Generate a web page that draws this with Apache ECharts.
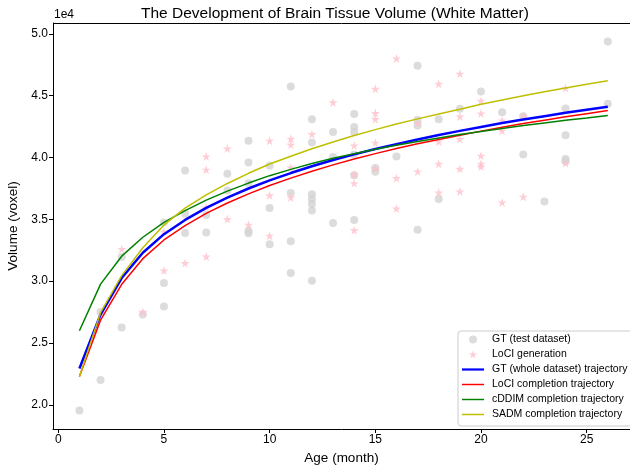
<!DOCTYPE html>
<html><head><meta charset="utf-8">
<script src="https://cdn.jsdelivr.net/npm/echarts@6/dist/echarts.min.js"></script>
<style>html,body{margin:0;padding:0;background:#fff}#c{width:630px;height:465px}</style>
</head><body><div id="c"></div>
<script>
// ---- data ----
const ages = [1,2,3,4,5,6,7,8,9,10,11,12,13,14,15,16,17,18,19,20,21,22,23,24,25,26];
const gtAge = [1,2,2,3,3,4,5,5,5,6,6,6,7,7,8,8,9,9,9,9,9,10,10,10,11,11,11,11,12,12,12,12,12,12,12,13,13,13,14,14,14,14,14,14,15,15,16,17,17,17,17,18,18,19,20,21,22,22,23,24,24,24,24,26,26];
const gtVol = [19540,27500,22000,31950,26250,27300,34740,29850,27950,38940,35450,33900,35350,33930,38680,37330,41350,39590,37920,34070,33880,39330,35910,32980,45740,37120,33220,30660,43100,41210,37020,36650,36240,35710,30040,42050,40040,34700,43510,42460,42050,40240,38560,34950,39150,38840,40080,47410,43050,42590,34150,43100,36650,43930,45340,43650,43340,40240,36450,43960,41800,39870,39700,49380,44340];
const lociAge = [3,4,5,5,6,7,7,7,7,8,8,9,10,10,10,11,11,11,11,12,13,14,14,14,14,15,15,15,15,15,16,16,16,17,17,18,18,18,18,19,19,19,19,19,20,20,20,20,20,21,21,21,22,22,24,24];
const lociVol = [32600,27520,34010,30860,31460,40080,39010,35960,31990,40720,35020,34560,41350,36940,33670,41510,41030,39190,36760,41890,44450,40970,38640,37920,34130,45550,43590,43100,41190,39100,48000,38330,35870,42780,38870,45960,41290,39490,37170,46770,43310,41480,39080,37250,44580,43560,40140,39490,39270,42990,42160,36360,43370,36820,45610,39550];
const gtTraj = [22940,27300,30250,32300,33800,34950,35930,36760,37490,38150,38740,39290,39790,40250,40680,41080,41460,41810,42150,42470,42780,43070,43340,43610,43860,44110];
const lociTraj = [22290,26850,29750,31820,33330,34490,35480,36320,37060,37730,38330,38890,39400,39870,40310,40720,41105,41460,41805,42130,42445,42740,43015,43290,43540,43790];
const cddimTraj = [25990,29760,32020,33550,34750,35700,36550,37280,37930,38530,39040,39510,39930,40310,40660,40990,41300,41580,41850,42100,42350,42580,42790,43000,43190,43390];
const sadmTraj = [22300,27450,30450,32700,34550,35900,36980,37900,38720,39470,40100,40700,41250,41770,42250,42700,43120,43520,43900,44300,44650,44990,45310,45620,45920,46200];
const xTicks = [0,5,10,15,20,25];
const yTicks = [20000,25000,30000,35000,40000,45000,50000];
const names = ['GT (test dataset)','LoCI generation','GT (whole dataset) trajectory','LoCI completion trajectory','cDDIM completion trajectory','SADM completion trajectory'];

const FONT = '"Liberation Sans", Arial, sans-serif';
const STAR = 'path://M0,-1 L0.2245,-0.309 L0.951,-0.309 L0.363,0.118 L0.588,0.809 L0,0.382 L-0.588,0.809 L-0.363,0.118 L-0.951,-0.309 L-0.2245,-0.309 Z';
const pairs = (xa, ya) => xa.map((x, i) => [x, ya[i]]);

const chart = echarts.init(document.getElementById('c'), null, {renderer: 'canvas'});
const lineSeries = (name, data, color, w, z) => ({
  name, type: 'line', data: pairs(ages, data), showSymbol: false, symbol: 'none',
  smooth: false, lineStyle: {color, width: w}, itemStyle: {color}, z, animation: false
});
chart.setOption({
  animation: false,
  textStyle: {fontFamily: FONT},
  title: {text: 'The Development of Brain Tissue Volume (White Matter)', left: 136, top: 1,
    textStyle: {fontFamily: FONT, fontSize: 15.5, fontWeight: 'normal', color: '#000'}},
  grid: {left: 53, right: 0, top: 23, bottom: 36, containLabel: false, outerBoundsMode: 'none'},
  xAxis: {type: 'value', min: -0.25, max: 27.05,
    name: 'Age (month)', nameLocation: 'middle', nameGap: 19,
    nameTextStyle: {fontFamily: FONT, fontSize: 13.5, color: '#000'},
    axisLine: {show: true, onZero: false, lineStyle: {color: '#000', width: 1}},
    axisTick: {show: true, length: 4, customValues: xTicks, lineStyle: {color: '#000'}},
    axisLabel: {customValues: xTicks, fontSize: 12, color: '#000', margin: 5, fontFamily: FONT},
    splitLine: {show: false}},
  yAxis: {type: 'value', min: 18048, max: 50872,
    name: 'Volume (voxel)', nameLocation: 'middle', nameGap: 26, nameRotate: 90,
    nameTextStyle: {fontFamily: FONT, fontSize: 13.5, color: '#000'},
    axisLine: {show: true, onZero: false, lineStyle: {color: '#000', width: 1}},
    axisTick: {show: true, length: 4, customValues: yTicks, lineStyle: {color: '#000'}},
    axisLabel: {customValues: yTicks, fontSize: 12, color: '#000', margin: 5, fontFamily: FONT,
      formatter: v => (v / 10000).toFixed(1)},
    splitLine: {show: false}},
  graphic: [
    {type: 'text', left: 54, top: 9, style: {text: '1e4', fontSize: 12, fontFamily: FONT, fill: '#000'}},
    {type: 'line', shape: {x1: 53, y1: 23.5, x2: 630, y2: 23.5}, style: {stroke: '#000', lineWidth: 1}, z: 10}
  ],
  legend: {
    orient: 'vertical', left: 458, top: 331,
    padding: [3, 10, 6, 4], itemGap: 4, itemWidth: 22, itemHeight: 8,
    backgroundColor: 'rgba(255,255,255,0.8)', borderColor: '#cccccc', borderWidth: 1, borderRadius: 3,
    textStyle: {fontFamily: FONT, fontSize: 10.5, color: '#000', lineHeight: 8, padding: [0, 0, 0, 3]},
    data: [
      {name: names[0], icon: 'circle'},
      {name: names[1], icon: STAR},
      {name: names[2], icon: 'path://M0,0 L30,0 L30,3 L0,3 Z'},
      {name: names[3], icon: 'path://M0,0 L30,0 L30,2 L0,2 Z'},
      {name: names[4], icon: 'path://M0,0 L30,0 L30,2 L0,2 Z'},
      {name: names[5], icon: 'path://M0,0 L30,0 L30,2 L0,2 Z'}
    ]
  },
  series: [
    {name: names[0], type: 'scatter', data: pairs(gtAge, gtVol), symbol: 'circle', symbolSize: 8,
      itemStyle: {color: '#d3d3d3'}, z: 2},
    {name: names[1], type: 'scatter', data: pairs(lociAge, lociVol), symbol: STAR, symbolSize: 9,
      itemStyle: {color: '#ffc0cb'}, z: 2},
    lineSeries(names[2], gtTraj, '#0000ff', 2.5, 3),
    lineSeries(names[3], lociTraj, '#ff0000', 1.5, 3),
    lineSeries(names[4], cddimTraj, '#008000', 1.5, 3),
    lineSeries(names[5], sadmTraj, '#bfbf00', 1.5, 3)
  ]
});
</script></body></html>
